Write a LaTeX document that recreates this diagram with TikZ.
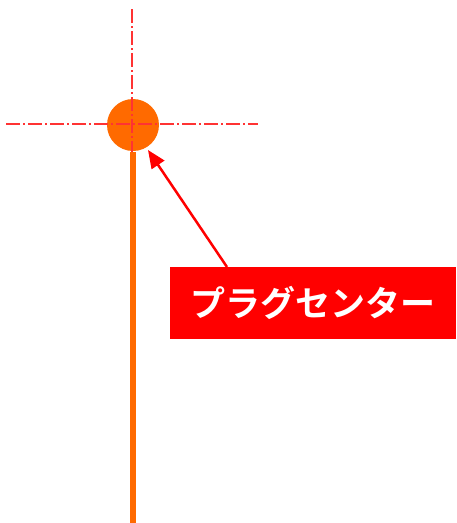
\documentclass[tikz,border=0pt]{standalone}
\usepackage{fontspec}
\newfontfamily\jpfont{Noto Sans CJK JP}[BoldFont={* Bold}]
\usetikzlibrary{arrows.meta}
\definecolor{plugorange}{HTML}{FF6A00}
\definecolor{centerred}{HTML}{FF3333}
\tikzset{
  centerline/.style={color=centerred, line width=2pt, dash pattern=on 14pt off 3pt on 2pt off 3pt},
  rod/.style={draw=plugorange, line width=6pt},
  plug/.style={circle, fill=plugorange, minimum size=52pt, inner sep=0pt},
  labelbox/.style={fill=red, text=white, font=\jpfont\bfseries\fontsize{35pt}{37pt}\selectfont, minimum width=286pt, minimum height=72pt, inner sep=0pt},
  pointer/.style={draw=red, line width=2.5pt, -{Triangle[length=18pt, width=15pt]}}
}
\begin{document}
\begin{tikzpicture}[x=1pt, y=-1pt]
\useasboundingbox (0,0) rectangle (456,523);
\node[plug] (p) at (133,125) {};
\coordinate (rtop) at (133,152);
\coordinate (rbot) at (133,523);
\draw[rod] (rtop) -- (rbot);
\coordinate (hl) at (6,124);
\coordinate (hr) at (258,124);
\coordinate (vt) at (132,9);
\coordinate (vb) at (132,152);
\draw[centerline] (hl) -- (hr);
\draw[centerline] (vt) -- (vb);
\node[labelbox] (lbl) at (313,303) {プラグセンター};
\coordinate (tip) at (148,150);
\draw[pointer] (227,267) -- (tip);
\end{tikzpicture}
\end{document}
